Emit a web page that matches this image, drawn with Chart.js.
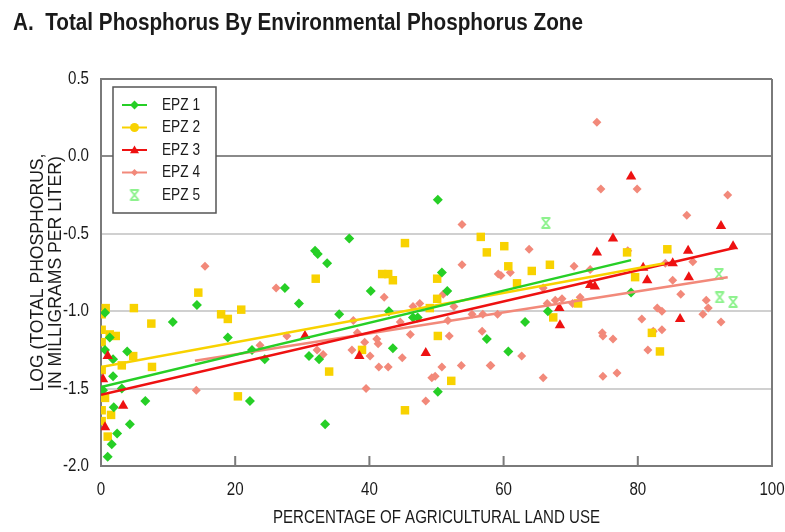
<!DOCTYPE html>
<html>
<head>
<meta charset="utf-8">
<script src="https://cdn.jsdelivr.net/npm/chart.js@4.4.0/dist/chart.umd.min.js"></script>
<style>
  html, body { margin: 0; padding: 0; background: #fff; }
</style>
</head>
<body>
<canvas id="grafico" width="785" height="532"></canvas>
<script>
// textos
var titulo = 'A.  Total Phosphorus By Environmental Phosphorus Zone';
var tituloX = 'PERCENTAGE OF AGRICULTURAL LAND USE';
var tituloY = ['LOG (TOTAL PHOSPHORUS,', 'IN MILLIGRAMS PER LITER)'];
var etiquetas = ['EPZ 1', 'EPZ 2', 'EPZ 3', 'EPZ 4', 'EPZ 5'];
var marcasX = [0, 20, 40, 60, 80, 100];

// EPZ 1 (verde)
var epz1X = [50.2, 31.9, 32.3, 37.0, 33.7, 27.4, 29.5, 40.2, 50.8, 51.6, 42.9, 35.5, 46.5, 47.2, 31.0,
  32.5, 43.5, 57.5, 50.2, 22.2, 33.4, 60.7, 63.2, 66.6, 79.0, 14.3, 10.7, 18.9, 22.5, 24.4,
  3.9, 6.6, 4.3, 2.4, 1.6, 1.0, 1.9, 0.6, 1.8, 1.8, 0.6, 1.3, 0.3, 3.1];
var epz1Y = [-0.28, -0.61, -0.63, -0.53, -0.69, -0.85, -0.95, -0.87, -0.75, -0.87, -1.00, -1.02, -1.04, -1.04, -1.29,
  -1.31, -1.24, -1.18, -1.52, -1.58, -1.73, -1.26, -1.07, -1.00, -0.88, -0.96, -1.07, -1.17, -1.25, -1.31,
  -1.26, -1.58, -1.73, -1.79, -1.86, -1.94, -1.62, -1.25, -1.31, -1.42, -1.01, -1.17, -1.51, -1.50];

// EPZ 2 (amarillo)
var epz2X = [14.5, 0.7, 4.9, 0.1, 7.5, 17.9, 18.9, 20.9, 0.1, 1.3, 2.2, 0.1, 4.8, 3.1, 7.6, 0.1, 20.4, 0.6, 0.1, 1.5, 0.1, 1.0,
  45.3, 56.6, 57.5, 32.0, 41.9, 42.8, 43.5, 50.1, 50.1, 49.0, 50.2, 38.9, 34.0, 52.2, 45.3,
  60.1, 60.7, 64.2, 66.9, 62.0, 78.4, 84.4, 79.6, 71.1, 67.4, 82.1, 83.3];
var epz2Y = [-0.88, -0.98, -0.98, -1.02, -1.08, -1.02, -1.05, -0.99, -1.12, -1.15, -1.16, -1.20, -1.29, -1.35, -1.36, -1.38, -1.55, -1.56, -1.64, -1.67, -1.71, -1.81,
  -0.56, -0.52, -0.62, -0.79, -0.76, -0.76, -0.80, -0.79, -0.92, -0.98, -1.16, -1.25, -1.39, -1.45, -1.64,
  -0.58, -0.71, -0.74, -0.70, -0.82, -0.62, -0.60, -0.78, -0.95, -1.04, -1.14, -1.26];

// EPZ 3 (rojo)
var epz3X = [1.0, 0.3, 3.3, 0.6, 30.4, 38.5, 48.4, 79.0, 76.3, 73.9, 92.4, 94.2, 87.5, 85.2, 80.8, 81.4, 87.6, 73.6, 72.9, 68.3, 68.4, 86.3];
var epz3Y = [-1.29, -1.44, -1.61, -1.75, -1.16, -1.29, -1.27, -0.13, -0.53, -0.62, -0.45, -0.58, -0.61, -0.69, -0.72, -0.80, -0.78, -0.84, -0.83, -0.98, -1.09, -1.05];

// EPZ 4 (salmon)
var epz4X = [15.5, 14.2, 53.8, 53.8, 26.1, 42.2, 46.5, 47.5, 51.0, 52.6, 23.7, 27.7, 32.2, 33.1, 37.4, 38.2, 37.6, 39.3, 41.1, 41.3,
  40.1, 41.4, 42.8, 44.9, 44.6, 46.1, 49.3, 49.8, 50.8, 53.7, 58.0, 51.9, 56.8, 39.5, 48.4, 51.7, 55.3, 56.9, 59.1, 59.2,
  73.9, 74.5, 79.9, 93.4, 87.3, 63.8, 78.5, 59.6, 61.0, 70.5, 72.9, 84.1, 88.2, 85.2, 65.9, 66.5, 67.7, 68.7, 70.3, 71.4,
  86.4, 90.2, 90.5, 89.7, 82.9, 83.6, 80.6, 82.3, 83.6, 92.4, 74.7, 74.8, 76.3, 58.1, 62.7, 81.5, 65.9, 74.8, 76.9];
var epz4Y = [-0.71, -1.51, -0.44, -0.70, -0.85, -0.91, -0.97, -0.95, -0.89, -0.97, -1.22, -1.16, -1.25, -1.28, -1.25, -1.14, -1.06, -1.20, -1.18, -1.21,
  -1.29, -1.36, -1.36, -1.30, -1.07, -1.15, -1.43, -1.42, -1.36, -1.35, -1.35, -1.16, -1.13, -1.50, -1.58, -1.06, -1.02, -1.02, -1.02, -0.76,
  0.22, -0.21, -0.21, -0.25, -0.38, -0.60, -0.61, -0.77, -0.75, -0.71, -0.73, -0.69, -0.68, -0.80, -0.85, -0.95, -0.93, -0.92, -0.95, -0.91,
  -0.89, -0.93, -0.98, -1.02, -0.98, -1.00, -1.05, -1.13, -1.12, -1.07, -1.14, -1.16, -1.18, -1.35, -1.29, -1.25, -1.43, -1.42, -1.40];

// EPZ 5 (verde claro)
var epz5X = [66.3, 92.1, 92.2, 94.2];
var epz5Y = [-0.43, -0.76, -0.91, -0.94];

// rectas de regresion (extremos)
var recta1X = [0, 79], recta1Y = [-1.49, -0.67];
var recta2X = [0, 84], recta2Y = [-1.36, -0.69];
var recta3X = [0, 94.5], recta3Y = [-1.54, -0.59];
var recta4X = [14, 93.4], recta4Y = [-1.32, -0.78];

var verde = '#26cf26', amarillo = '#f8d200', rojo = '#ee1111', salmon = '#f2897a', verdeClaro = '#8ef28e';
var fuente = '"Liberation Sans", Arial, sans-serif';

function pares(xs, ys) {
  return xs.map(function (x, i) { return { x: x, y: ys[i] }; });
}

// reloj de arena para EPZ 5
function hacerReloj(color) {
  var c = document.createElement('canvas');
  c.width = 12; c.height = 12;
  var g = c.getContext('2d');
  g.strokeStyle = color;
  g.lineWidth = 2;
  g.beginPath();
  g.moveTo(1.5, 1); g.lineTo(10.5, 1);
  g.moveTo(1.5, 11); g.lineTo(10.5, 11);
  g.moveTo(2, 1); g.lineTo(10, 11);
  g.moveTo(10, 1); g.lineTo(2, 11);
  g.stroke();
  return c;
}
var reloj = hacerReloj(verdeClaro);

function marcador(ctx, tipo, color, x, y, r) {
  ctx.save();
  ctx.fillStyle = color;
  ctx.beginPath();
  if (tipo === 'rombo') {
    ctx.moveTo(x, y - r); ctx.lineTo(x + r, y); ctx.lineTo(x, y + r); ctx.lineTo(x - r, y);
  } else if (tipo === 'circulo') {
    ctx.arc(x, y, r, 0, Math.PI * 2);
  } else if (tipo === 'triangulo') {
    ctx.moveTo(x, y - r); ctx.lineTo(x + r, y + r * 0.7); ctx.lineTo(x - r, y + r * 0.7);
  }
  ctx.closePath();
  ctx.fill();
  ctx.restore();
}

// texto angosto (la fuente original es condensada)
function texto(ctx, t, x, y, escala, alin, giro) {
  ctx.save();
  ctx.translate(x, y);
  if (giro) ctx.rotate(giro);
  ctx.scale(escala, 1);
  ctx.textAlign = alin;
  ctx.fillText(t, 0, 0);
  ctx.restore();
}
function escalaPara(ctx, t, ancho) {
  return ancho / ctx.measureText(t).width;
}

var extras = {
  id: 'extras',
  beforeDatasetsDraw: function (chart) {
    var ctx = chart.ctx, a = chart.chartArea, sx = chart.scales.x;
    ctx.save();
    ctx.strokeStyle = '#7a7a7a';
    ctx.lineWidth = 2;
    ctx.beginPath();
    ctx.moveTo(a.right, a.top); ctx.lineTo(a.right, a.bottom);
    marcasX.forEach(function (v) {
      var px = sx.getPixelForValue(v);
      ctx.moveTo(px, a.bottom); ctx.lineTo(px, a.bottom - 10);
    });
    ctx.stroke();
    ctx.restore();
  },
  afterDraw: function (chart) {
    var ctx = chart.ctx, a = chart.chartArea, sx = chart.scales.x, sy = chart.scales.y;
    ctx.save();
    ctx.fillStyle = '#1a1a1a';
    ctx.textBaseline = 'middle';

    // etiquetas de los ejes
    ctx.font = '18px ' + fuente;
    sy.ticks.forEach(function (t) {
      texto(ctx, t.label, a.left - 12, sy.getPixelForValue(t.value), 0.84, 'right');
    });
    sx.ticks.forEach(function (t) {
      texto(ctx, t.label, sx.getPixelForValue(t.value), a.bottom + 24, 0.84, 'center');
    });

    // titulos de los ejes
    texto(ctx, tituloX, (a.left + a.right) / 2, a.bottom + 52, escalaPara(ctx, tituloX, 327), 'center');
    var cy = (a.top + a.bottom) / 2;
    var ey = escalaPara(ctx, tituloY[0], 238);
    texto(ctx, tituloY[0], 38, cy, ey, 'center', -Math.PI / 2);
    texto(ctx, tituloY[1], 56, cy, ey, 'center', -Math.PI / 2);

    // titulo
    ctx.font = 'bold 23px ' + fuente;
    ctx.textBaseline = 'alphabetic';
    texto(ctx, titulo, 13, 30, escalaPara(ctx, titulo, 570), 'left');

    // leyenda
    var bx = a.left + 12, by = a.top + 8, bw = 103, bh = 126;
    ctx.fillStyle = '#fff';
    ctx.fillRect(bx, by, bw, bh);
    ctx.strokeStyle = '#555';
    ctx.lineWidth = 1.5;
    ctx.strokeRect(bx, by, bw, bh);
    var colores = [verde, amarillo, rojo, salmon, verdeClaro];
    var tipos = ['rombo', 'circulo', 'triangulo', 'rombo', 'reloj'];
    ctx.font = '17px ' + fuente;
    ctx.textBaseline = 'middle';
    etiquetas.forEach(function (t, i) {
      var yy = by + 18 + i * 22.5;
      if (tipos[i] !== 'reloj') {
        ctx.strokeStyle = colores[i];
        ctx.lineWidth = 2;
        ctx.beginPath();
        ctx.moveTo(bx + 9, yy); ctx.lineTo(bx + 34, yy);
        ctx.stroke();
        marcador(ctx, tipos[i], colores[i], bx + 21.5, yy, i === 3 ? 3.5 : 4.5);
      } else {
        ctx.drawImage(reloj, bx + 15.5, yy - 6);
      }
      ctx.fillStyle = '#1a1a1a';
      texto(ctx, t, bx + 49, yy, escalaPara(ctx, t, 38), 'left');
    });
    ctx.restore();
  }
};

var ctx = document.getElementById('grafico');

function serie(nombre, xs, ys, estilo, color, radio, orden) {
  return {
    label: nombre, data: pares(xs, ys), pointStyle: estilo, pointRadius: radio,
    backgroundColor: color, borderColor: color, borderWidth: 0, order: orden
  };
}
function recta(xs, ys, color) {
  return {
    type: 'line', data: pares(xs, ys), borderColor: color, borderWidth: 2.5,
    pointRadius: 0, fill: false, showLine: true, order: 0
  };
}

var grafico = new Chart(ctx, {
  type: 'scatter',
  data: {
    datasets: [
      recta(recta1X, recta1Y, verde),
      recta(recta2X, recta2Y, amarillo),
      recta(recta3X, recta3Y, rojo),
      recta(recta4X, recta4Y, salmon),
      serie('EPZ 1', epz1X, epz1Y, 'rectRot', verde, 5, 2),
      serie('EPZ 2', epz2X, epz2Y, 'rect', amarillo, 6, 3),
      serie('EPZ 3', epz3X, epz3Y, 'triangle', rojo, 6, 1),
      serie('EPZ 4', epz4X, epz4Y, 'rectRot', salmon, 4.5, 4),
      serie('EPZ 5', epz5X, epz5Y, reloj, verdeClaro, 6, 1)
    ]
  },
  options: {
    responsive: false,
    animation: false,
    devicePixelRatio: 1,
    layout: { padding: { top: 79, right: 13, left: 0, bottom: 0 } },
    plugins: { legend: { display: false }, tooltip: { enabled: false } },
    scales: {
      x: {
        type: 'linear', min: 0, max: 100,
        ticks: { stepSize: 20, display: false },
        grid: { drawOnChartArea: false, drawTicks: false },
        border: { color: '#7a7a7a', width: 2 },
        afterFit: function (s) { s.height = 66; }
      },
      y: {
        min: -2, max: 0.5,
        ticks: {
          stepSize: 0.5, display: false,
          callback: function (v) { return v.toFixed(1); }
        },
        grid: {
          drawTicks: false, lineWidth: 2,
          color: function (c) {
            if (!c.tick) return '#d0d0d0';
            if (c.tick.value === 0) return '#8a8a8a';
            if (c.tick.value === 0.5) return '#7a7a7a';
            return '#d0d0d0';
          }
        },
        border: { color: '#7a7a7a', width: 2 },
        afterFit: function (s) { s.width = 101; }
      }
    }
  },
  plugins: [extras]
});
</script>
</body>
</html>
